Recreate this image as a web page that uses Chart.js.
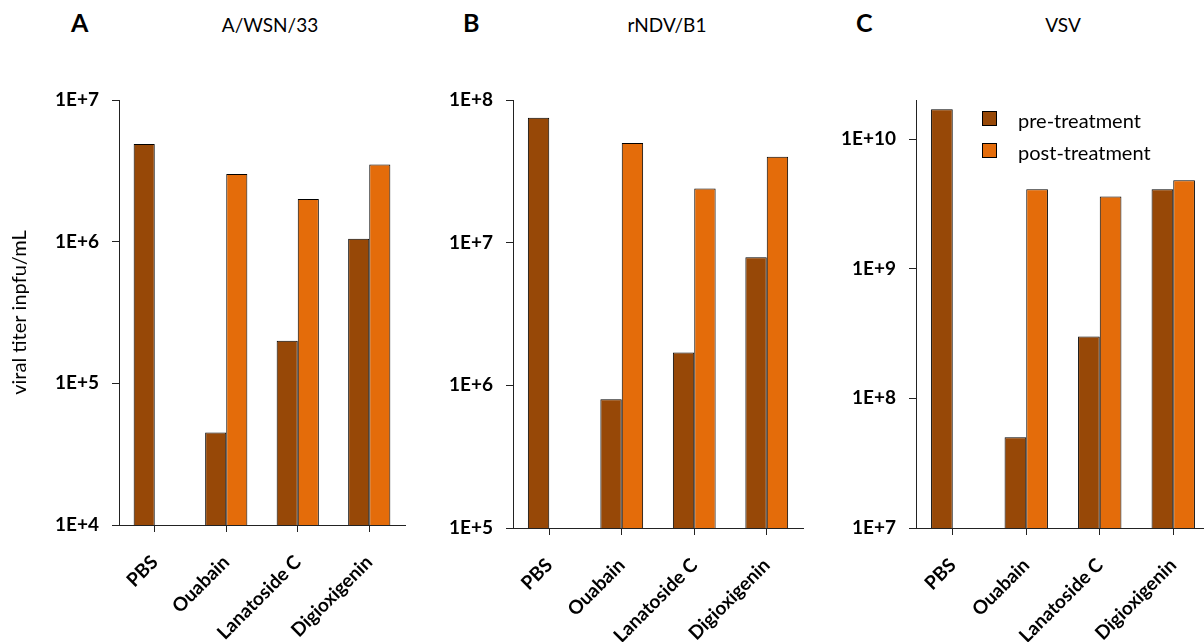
<!DOCTYPE html>
<html>
<head>
<meta charset="utf-8">
<script src="https://cdn.jsdelivr.net/npm/chart.js@4.4.1/dist/chart.umd.min.js"></script>
<style>
    html, body { margin: 0; padding: 0; background: #fff; overflow: hidden; }
    body { width: 1204px; height: 642px; position: relative; font-family: Lato, "Open Sans", sans-serif; color: #000; }
    canvas { position: absolute; top: 0; }
    .txt { position: absolute; line-height: 1; transform: translateY(-50%); white-space: nowrap; }
    .letter { font-weight: bold; font-size: 25px; }
    .title { font-size: 19px; text-align: center; width: 200px; }
    .sw { position: absolute; width: 13px; height: 13px; border: 1.5px solid #000; }
</style>
</head>
<body>
<div class="txt letter" style="left:71px; top:22px;">A</div>
<div class="txt title" style="left:170px; top:24px;">A/WSN/33</div>
<div class="txt letter" style="left:463px; top:22px;">B</div>
<div class="txt title" style="left:567px; top:24px;">rNDV/B1</div>
<div class="txt letter" style="left:856px; top:22px;">C</div>
<div class="txt title" style="left:963px; top:24px;">VSV</div>

<canvas id="chartA" width="420" height="642" style="left:0px;"></canvas>
<canvas id="chartB" width="400" height="642" style="left:420px;"></canvas>
<canvas id="chartC" width="400" height="642" style="left:820px;"></canvas>

<div id="legend"></div>

<script>
var categories = ['PBS', 'Ouabain', 'Lanatoside C', 'Digioxigenin'];
var seriesNames = ['pre-treatment', 'post-treatment'];
var seriesColors = ['#974807', '#E46C0A'];

// A/WSN/33
var preA = [4.9e6, 4.5e4, 2.0e5, 1.05e6];
var postA = [null, 3.0e6, 2.0e6, 3.5e6];
// rNDV/B1
var preB = [7.5e7, 8.0e5, 1.7e6, 7.9e6];
var postB = [null, 5.0e7, 2.4e7, 4.0e7];
// VSV
var preC = [1.7e10, 5.0e7, 3.0e8, 4.1e9];
var postC = [null, 4.1e9, 3.6e9, 4.8e9];

var axisMin = [1e4, 1e5, 1e7];
var axisMax = [1e7, 1e8, 2e10];

var font = 'Lato, "Open Sans", sans-serif';
var lineColor = '#222';

function makeChart(id, pre, post, min, max, yWidth, xHeight, rightPad, yTitle) {
    var data = {
        labels: categories,
        datasets: [
            {
                label: seriesNames[0],
                backgroundColor: seriesColors[0],
                borderColor: '#000',
                borderWidth: 1,
                data: pre,
            },
            {
                label: seriesNames[1],
                backgroundColor: seriesColors[1],
                borderColor: '#000',
                borderWidth: 1,
                data: post,
            },
        ],
    };

    var config = {
        type: 'bar',
        data: data,
        options: {
            responsive: false,
            animation: false,
            layout: { padding: { top: 100, right: rightPad, left: 0, bottom: 0 } },
            datasets: { bar: { categoryPercentage: 0.59, barPercentage: 1.0 } },
            plugins: {
                legend: { display: false },
                tooltip: { enabled: false },
            },
            scales: {
                x: {
                    grid: { offset: false, drawOnChartArea: false, tickLength: 7, color: lineColor },
                    border: { color: lineColor, width: 1 },
                    ticks: {
                        color: '#000',
                        font: { family: font, size: 19, weight: 'bold' },
                        minRotation: 45,
                        maxRotation: 45,
                        padding: 19,
                    },
                    afterFit: function (scale) {
                        scale.height = xHeight;
                        scale.paddingLeft = 0;
                        scale.paddingRight = 0;
                    },
                },
                y: {
                    type: 'logarithmic',
                    min: min,
                    max: max,
                    grid: { drawOnChartArea: false, tickLength: 7, color: lineColor },
                    border: { color: lineColor, width: 1 },
                    ticks: {
                        color: '#000',
                        font: { family: font, size: 19, weight: 'bold' },
                        padding: 13,
                        callback: function (v) {
                            return '1E+' + Math.round(Math.log10(v));
                        },
                    },
                    afterBuildTicks: function (scale) {
                        scale.ticks = scale.ticks.filter(function (t) {
                            var e = Math.log10(t.value);
                            return Math.abs(e - Math.round(e)) < 1e-9;
                        });
                    },
                    title: {
                        display: yTitle !== '',
                        text: yTitle,
                        color: '#000',
                        font: { family: font, size: 20 },
                        padding: { top: 8, bottom: 0 },
                    },
                    afterFit: function (scale) {
                        scale.width = yWidth;
                        scale.paddingTop = 0;
                        scale.paddingBottom = 0;
                    },
                },
            },
        },
    };

    return new Chart(document.getElementById(id), config);
}

var chartA = makeChart('chartA', preA, postA, axisMin[0], axisMax[0], 119, 117, 15, 'viral titer inpfu/mL');
var chartB = makeChart('chartB', preB, postB, axisMin[1], axisMax[1], 93, 114, 17, '');
var chartC = makeChart('chartC', preC, postC, axisMin[2], axisMax[2], 96, 114, 10, '');

// legend for panel C, built from the series names and colours
var legend = document.getElementById('legend');
var legendTop = [111, 143];
for (var i = 0; i < seriesNames.length; i++) {
    var sw = document.createElement('div');
    sw.className = 'sw';
    sw.style.left = '982px';
    sw.style.top = legendTop[i] + 'px';
    sw.style.background = seriesColors[i];
    legend.appendChild(sw);

    var lab = document.createElement('div');
    lab.className = 'txt';
    lab.style.left = '1018px';
    lab.style.top = (legendTop[i] + 9) + 'px';
    lab.style.fontSize = '20px';
    lab.textContent = seriesNames[i];
    legend.appendChild(lab);
}
</script>
</body>
</html>
